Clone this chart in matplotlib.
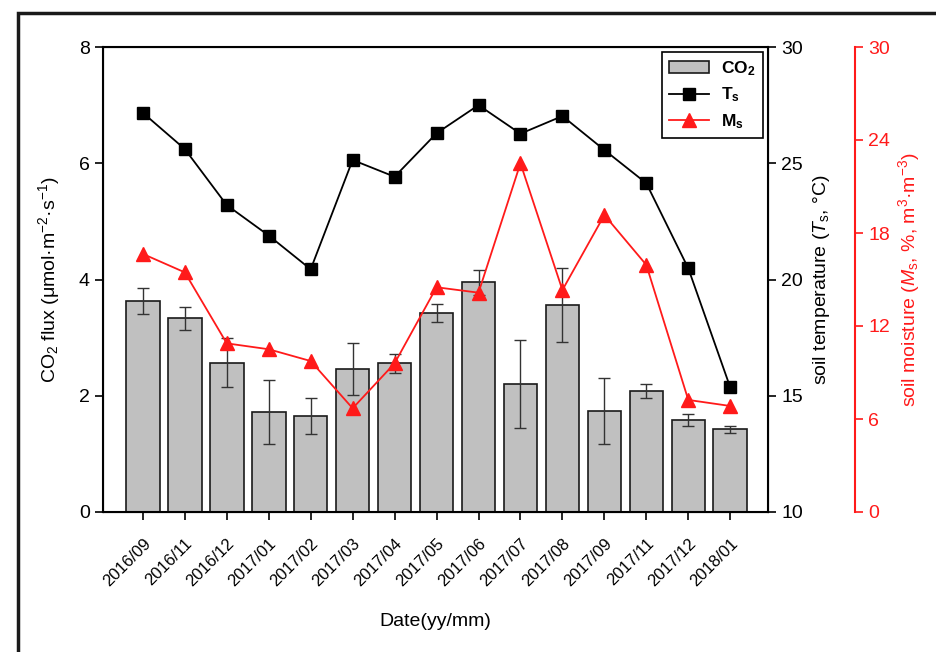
import numpy as np
import matplotlib
matplotlib.use('Agg')
import matplotlib.pyplot as plt
from matplotlib.patches import Rectangle

plt.rcParams['font.family'] = ['Liberation Sans', 'DejaVu Sans']
plt.rcParams['mathtext.fontset'] = 'custom'
plt.rcParams['mathtext.rm'] = 'Liberation Sans'
plt.rcParams['mathtext.it'] = 'Liberation Sans:italic'
plt.rcParams['mathtext.bf'] = 'Liberation Sans:bold'

# dane
daty = ['2016/09', '2016/11', '2016/12', '2017/01', '2017/02', '2017/03', '2017/04', '2017/05',
        '2017/06', '2017/07', '2017/08', '2017/09', '2017/11', '2017/12', '2018/01']
co2 = [3.63, 3.33, 2.57, 1.72, 1.65, 2.46, 2.56, 3.42, 3.95, 2.20, 3.56, 1.74, 2.08, 1.58, 1.42]
co2_err = [0.22, 0.20, 0.42, 0.55, 0.31, 0.45, 0.16, 0.15, 0.21, 0.76, 0.63, 0.57, 0.12, 0.10, 0.06]
temp = [27.17, 25.61, 23.20, 21.89, 20.44, 25.14, 24.42, 26.29, 27.50, 26.27, 27.03, 25.57, 24.14, 20.48, 15.36]
wilg = [16.65, 15.46, 10.88, 10.50, 9.74, 6.69, 9.59, 14.50, 14.15, 22.50, 14.32, 19.16, 15.94, 7.23, 6.84]

x = np.arange(len(daty))
czerwony = '#ff1a1a'

fig = plt.figure(figsize=(9.37, 6.52), dpi=100)
ax = fig.add_axes([103 / 937, 1 - 512 / 652, 665 / 937, 465 / 652])

slupki = ax.bar(x, co2, width=0.8, color='#c0c0c0', edgecolor='#1a1a1a', linewidth=1.2,
                yerr=co2_err, error_kw=dict(ecolor='#333333', elinewidth=1, capsize=4, capthick=1),
                zorder=2)
ax.set_xlim(-0.95, 14.9)
ax.set_ylim(0, 8)
ax.set_yticks([0, 2, 4, 6, 8])
ax.set_xticks(x)
ax.set_xticklabels(daty, rotation=45, ha='right', rotation_mode='anchor', fontsize=12)
ax.tick_params(axis='y', labelsize=14, direction='out', length=6, width=1.2)
ax.tick_params(axis='x', direction='out', length=6, width=1.2, pad=11)
ax.set_ylabel('CO$_2$ flux (μmol·m$^{-2}$·s$^{-1}$)', fontsize=14, labelpad=12)
ax.set_xlabel('Date(yy/mm)', fontsize=14, labelpad=17)
for s in ax.spines.values():
    s.set_linewidth(1.5)

ax2 = ax.twinx()
linia_t, = ax2.plot(x, temp, color='black', marker='s', markersize=9, linewidth=1.3, zorder=3)
ax2.set_ylim(10, 30)
ax2.set_yticks([10, 15, 20, 25, 30])
ax2.tick_params(axis='y', labelsize=14, direction='out', length=6, width=1.2)
ax2.set_ylabel('soil temperature ($T_\\mathrm{s}$, °C)', fontsize=14, labelpad=6)

ax3 = ax.twinx()
ax3.spines['right'].set_position(('axes', 752 / 665))
ax3.spines['right'].set_color(czerwony)
ax3.spines['right'].set_linewidth(1.5)
for k in ['top', 'left', 'bottom']:
    ax3.spines[k].set_visible(False)
linia_m, = ax3.plot(x, wilg, color=czerwony, marker='^', markersize=10, linewidth=1.3, zorder=3)
ax3.set_ylim(0, 30)
ax3.set_yticks([0, 6, 12, 18, 24, 30])
ax3.tick_params(axis='y', labelsize=14, direction='out', length=6, width=1.2, colors=czerwony)
ax3.set_ylabel('soil moisture ($M_\\mathrm{s}$, %, m$^3$·m$^{-3}$)', fontsize=14, color=czerwony)

leg = ax3.legend([slupki, linia_t, linia_m], ['CO$_\\mathbf{2}$', 'T$_\\mathbf{s}$', 'M$_\\mathbf{s}$'],
                 loc='upper right', fancybox=False, edgecolor='black', framealpha=1,
                 prop={'weight': 'bold', 'size': 12.5}, borderaxespad=0.3, handlelength=2.3,
                 handletextpad=0.7, labelspacing=0.45, borderpad=0.4)
leg.get_frame().set_linewidth(1.2)

# ramka wokol rysunku
fig.patches.append(Rectangle((18 / 937, -0.5), 2, 0.5 + (652 - 13) / 652, transform=fig.transFigure,
                             fill=False, edgecolor='#1a1a1a', linewidth=2.5))

fig.savefig('out.png', dpi=100)
